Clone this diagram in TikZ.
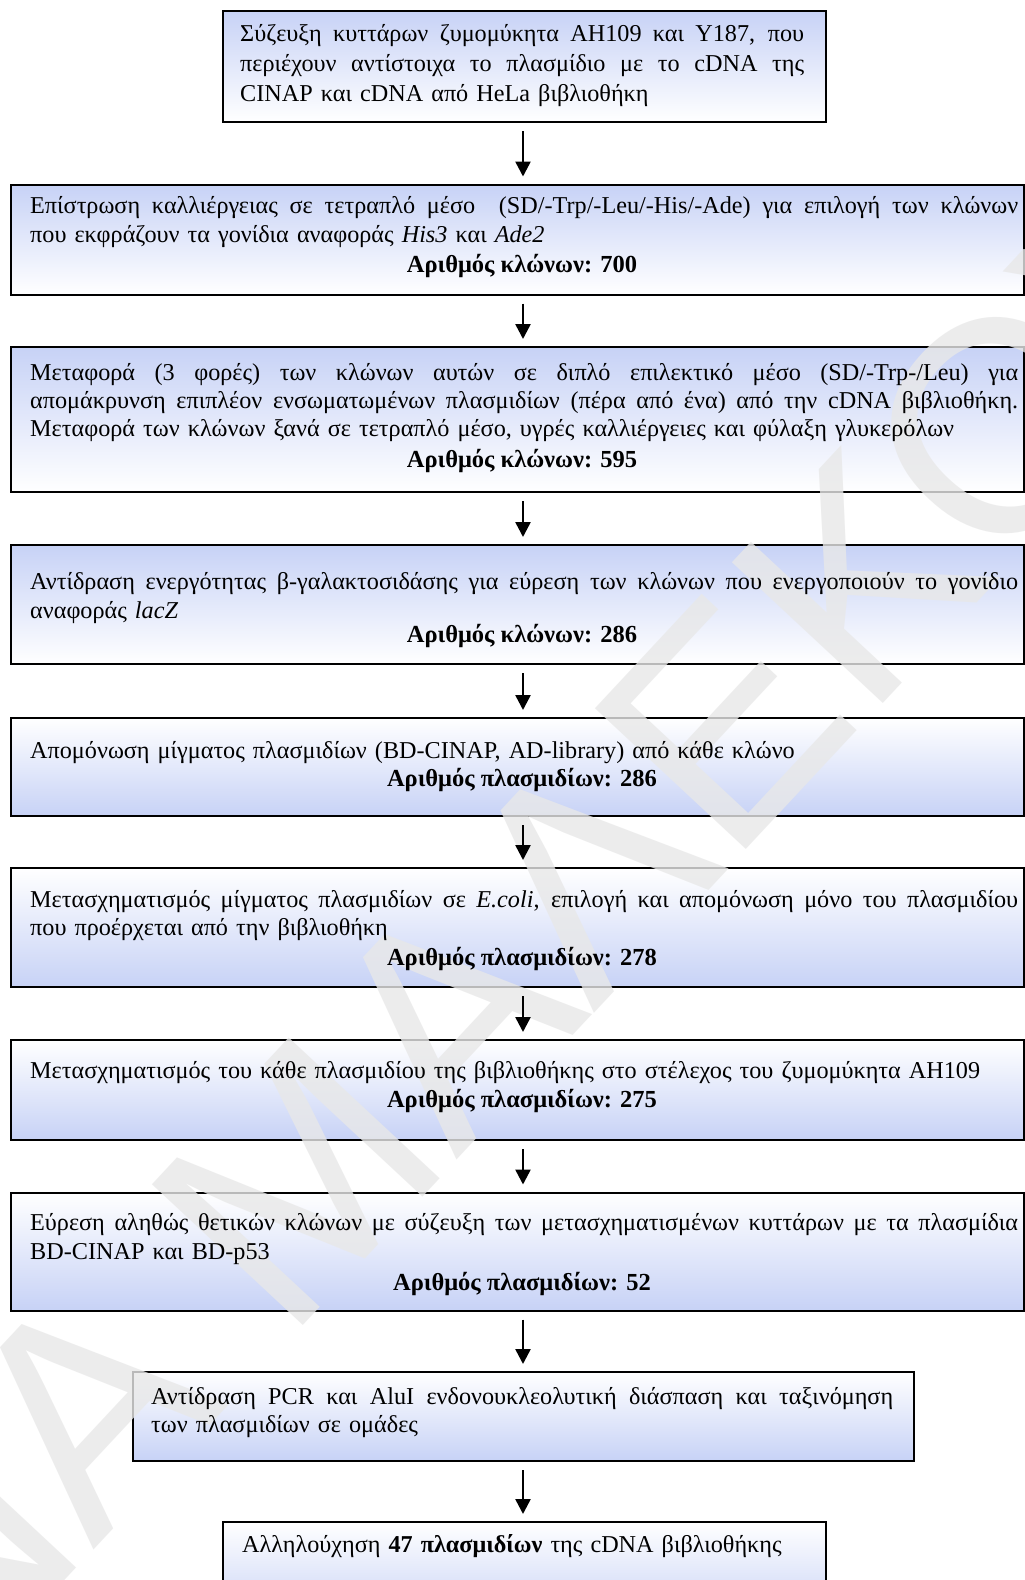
\documentclass[tikz,border=0pt]{standalone}
\usepackage{fontspec}
\setmainfont{Liberation Serif}
\newfontfamily\wmfont{Liberation Sans}
\usetikzlibrary{arrows.meta}
\definecolor{boxblue}{RGB}{199,210,246}
\definecolor{wmgray}{RGB}{232,232,232}
\pgfdeclarelayer{bg}\pgfdeclarelayer{wm}\pgfsetlayers{bg,wm,main}
\newcommand{\jl}[2]{\leavevmode\hbox to #1{\spaceskip=0.25em plus 1fil\relax #2}}
\begin{document}
\begin{tikzpicture}[x=1pt,y=-1pt,
  box/.style={draw=black, line width=2pt, inner sep=0pt, anchor=north west, rectangle},
  topblue/.style={box, top color=boxblue, bottom color=white},
  botblue/.style={box, top color=white, bottom color=boxblue},
  txt/.style={anchor=north west, inner sep=0pt, align=left, font=\fontsize{24.2}{28.2}\selectfont},
  cnt/.style={anchor=base, inner sep=0pt, font=\fontsize{24.5}{28.2}\selectfont\bfseries},
  flow/.style={-{Triangle[length=15pt,width=15pt]}, line width=2.5pt, shorten <=8pt, shorten >=7pt}
]
\useasboundingbox (0,0) rectangle (1025,1580);
\coordinate (ax) at (523,0);

\begin{pgfonlayer}{bg}
\fill[white] (0,0) rectangle (1025,1580);
\node[topblue, minimum width=603pt, minimum height=111pt] (b1) at (222,10) {};
\node[topblue, minimum width=1013pt, minimum height=110pt] (b2) at (10,183.5) {};
\node[topblue, minimum width=1013pt, minimum height=145pt] (b3) at (10,346) {};
\node[topblue, minimum width=1013pt, minimum height=119pt] (b4) at (10,544) {};
\node[botblue, minimum width=1013pt, minimum height=98pt] (b5) at (10,717) {};
\node[botblue, minimum width=1013pt, minimum height=119pt] (b6) at (10,867) {};
\node[botblue, minimum width=1013pt, minimum height=100pt] (b7) at (10,1039) {};
\node[botblue, minimum width=1013pt, minimum height=118pt] (b8) at (10,1191.5) {};
\node[botblue, minimum width=781pt, minimum height=89pt] (b9) at (132,1371) {};
\node[botblue, minimum width=603pt, minimum height=100pt] (b10) at (222,1521) {};
\end{pgfonlayer}

\begin{pgfonlayer}{wm}
\node[font=\wmfont\fontsize{300}{300}\selectfont, text=wmgray, text opacity=0.8, rotate=47, inner sep=0pt] (wmark) at (398,1072) {ΑΝΝΑ ΜΑΛΕΚΟΥ};
\end{pgfonlayer}

\node[txt, text width=566pt, font=\fontsize{24.2}{30}\selectfont] (t1) at (240,20.3) {\jl{564pt}{\strut Σύζευξη κυττάρων ζυμομύκητα AH109 και Y187, που}\\
\jl{564pt}{περιέχουν αντίστοιχα το πλασμίδιο με το cDNA της}\\
CINAP και cDNA από HeLa βιβλιοθήκη};

\node[txt, text width=988pt] (t2) at (30,193.9) {\jl{988pt}{\strut Επίστρωση καλλιέργειας σε τετραπλό μέσο\ \ (SD/-Trp/-Leu/-His/-Ade) για επιλογή των κλώνων}\\
που εκφράζουν τα γονίδια αναφοράς \textit{His3} και \textit{Ade2}};
\node[cnt] (c2) at (522,272) {Αριθμός κλώνων: 700};

\node[txt, text width=988pt] (t3) at (30,360.3) {\jl{988pt}{\strut Μεταφορά (3 φορές) των κλώνων αυτών σε διπλό επιλεκτικό μέσο (SD/-Trp-/Leu) για}\\
\jl{988pt}{απομάκρυνση επιπλέον ενσωματωμένων πλασμιδίων (πέρα από ένα) από την cDNA βιβλιοθήκη.}\\
Μεταφορά των κλώνων ξανά σε τετραπλό μέσο, υγρές καλλιέργειες και φύλαξη γλυκερόλων};
\node[cnt] (c3) at (522,467.7) {Αριθμός κλώνων: 595};

\node[txt, text width=988pt] (t4) at (30,569.9) {\jl{988pt}{\strut Αντίδραση ενεργότητας β-γαλακτοσιδάσης για εύρεση των κλώνων που ενεργοποιούν το γονίδιο}\\
αναφοράς \textit{lacZ}};
\node[cnt] (c4) at (522,642) {Αριθμός κλώνων: 286};

\node[txt, text width=988pt] (t5) at (30,738.3) {\strut Απομόνωση μίγματος πλασμιδίων (BD-CINAP, AD-library) από κάθε κλώνο};
\node[cnt] (c5) at (522,786) {Αριθμός πλασμιδίων: 286};

\node[txt, text width=988pt] (t6) at (30,887.3) {\jl{988pt}{\strut Μετασχηματισμός μίγματος πλασμιδίων σε \textit{E.coli}, επιλογή και απομόνωση μόνο του πλασμιδίου}\\
που προέρχεται από την βιβλιοθήκη};
\node[cnt] (c6) at (522,965.6) {Αριθμός πλασμιδίων: 278};

\node[txt, text width=988pt] (t7) at (30,1058.8) {\strut Μετασχηματισμός του κάθε πλασμιδίου της βιβλιοθήκης στο στέλεχος του ζυμομύκητα AH109};
\node[cnt] (c7) at (522,1107) {Αριθμός πλασμιδίων: 275};

\node[txt, text width=988pt] (t8) at (30,1211) {\jl{988pt}{\strut Εύρεση αληθώς θετικών κλώνων με σύζευξη των μετασχηματισμένων κυττάρων με τα πλασμίδια}\\
BD-CINAP και BD-p53};
\node[cnt] (c8) at (522,1290) {Αριθμός πλασμιδίων: 52};

\node[txt, text width=742pt] (t9) at (151,1384.3) {\jl{742pt}{\strut Αντίδραση PCR και AluI ενδονουκλεολυτική διάσπαση και ταξινόμηση}\\
των πλασμιδίων σε ομάδες};

\node[txt, text width=570pt] (t10) at (242,1532.3) {\strut Αλληλούχηση \textbf{47 πλασμιδίων} της cDNA βιβλιοθήκης};

\draw[flow] (b1.south -| ax) -- (b2.north -| ax);
\draw[flow] (b2.south -| ax) -- (b3.north -| ax);
\draw[flow] (b3.south -| ax) -- (b4.north -| ax);
\draw[flow] (b4.south -| ax) -- (b5.north -| ax);
\draw[flow] (b5.south -| ax) -- (b6.north -| ax);
\draw[flow] (b6.south -| ax) -- (b7.north -| ax);
\draw[flow] (b7.south -| ax) -- (b8.north -| ax);
\draw[flow] (b8.south -| ax) -- (b9.north -| ax);
\draw[flow] (b9.south -| ax) -- (b10.north -| ax);
\end{tikzpicture}
\end{document}
